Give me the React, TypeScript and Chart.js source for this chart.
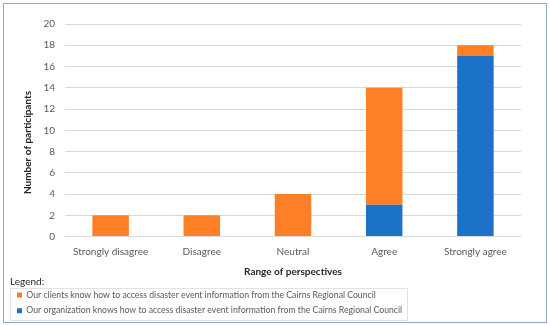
import React, { useEffect, useRef } from "react";
import { Chart, registerables } from "chart.js";

Chart.register(...registerables);

const categories = ["Strongly disagree", "Disagree", "Neutral", "Agree", "Strongly agree"];
const clientsLabel =
  "Our clients know how to access disaster event information from the Cairns Regional Council";
const orgLabel =
  "Our organization knows how to access disaster event information from the Cairns Regional Council";
const clientsValues = [2, 2, 4, 11, 1];
const orgValues = [0, 0, 0, 3, 17];
const yMin = 0;
const yMax = 20;
const yStep = 2;

const FONT = "Lato, 'Open Sans', sans-serif";

const legendFrame = {
  id: "legendFrame",
  afterDraw(chart: any) {
    const lg = chart.legend;
    if (!lg || !lg.legendHitBoxes || !lg.legendHitBoxes.length) return;
    let l = Infinity, t = Infinity, r = -Infinity, b = -Infinity;
    lg.legendHitBoxes.forEach((h: any) => {
      l = Math.min(l, h.left);
      t = Math.min(t, h.top);
      r = Math.max(r, h.left + h.width);
      b = Math.max(b, h.top + h.height);
    });
    const ctx = chart.ctx;
    ctx.save();
    ctx.strokeStyle = "#e2e2e2";
    ctx.lineWidth = 1;
    ctx.strokeRect(Math.round(l - 7) + 0.5, Math.round(t - 3) + 0.5, Math.round(r - l + 12), Math.round(b - t + 8));
    ctx.restore();
  },
};

export default function App() {
  const ref = useRef<HTMLCanvasElement | null>(null);
  useEffect(() => {
    if (!ref.current) return;
    const chart = new Chart(ref.current, {
      type: "bar",
      data: {
        labels: categories,
        datasets: [
          {
            label: orgLabel,
            data: orgValues,
            backgroundColor: "#1B72C6",
            borderWidth: 0,
            categoryPercentage: 0.8,
            barPercentage: 0.5,
          },
          {
            label: clientsLabel,
            data: clientsValues,
            backgroundColor: "#FF7F27",
            borderWidth: 0,
            categoryPercentage: 0.8,
            barPercentage: 0.5,
          },
        ],
      },
      options: {
        animation: false,
        responsive: false,
        maintainAspectRatio: false,
        layout: { padding: { left: 6, right: 25, top: 20, bottom: -3 } },
        font: { family: FONT },
        scales: {
          x: {
            stacked: true,
            grid: { display: false, drawTicks: false },
            border: { display: false },
            ticks: { color: "#595959", font: { family: FONT, size: 10 }, padding: 9 },
            title: {
              display: true,
              text: "Range of perspectives",
              color: "#262626",
              font: { family: FONT, size: 10, weight: "bold", lineHeight: 1 },
              padding: { top: 0, bottom: -2 },
            },
            afterFit(scale: any) {
              scale.height = 38;
            },
          },
          y: {
            stacked: true,
            min: yMin,
            max: yMax,
            ticks: { stepSize: yStep, color: "#595959", font: { family: FONT, size: 10 }, padding: 10 },
            grid: { color: "#d9d9d9", drawTicks: false },
            border: { display: false },
            title: {
              display: true,
              text: "Number of participants          ",
              color: "#262626",
              font: { family: FONT, size: 10, weight: "bold" },
              padding: { top: 12, bottom: 0 },
            },
            afterFit(scale: any) {
              scale.width = 55;
            },
          },
        },
        plugins: {
          tooltip: { enabled: false },
          legend: {
            position: "bottom",
            align: "start",
            reverse: true,
            title: {
              display: true,
              text: "Legend:",
              position: "start",
              color: "#1f1f1f",
              font: { family: FONT, size: 10, lineHeight: 1 },
              padding: { top: 2, bottom: -3 },
            },
            labels: {
              boxWidth: 5,
              boxHeight: 5,
              padding: 7,
              color: "#595959",
              font: { family: FONT, size: 8.7 },
            },
          },
        },
      },
      plugins: [legendFrame],
    } as any);
    return () => chart.destroy();
  }, []);

  return (
    <div style={{ position: "fixed", left: 0, top: 0, width: 550, height: 325, background: "#fff" }}>
      <div
        style={{
          position: "absolute",
          left: 3,
          top: 3,
          width: 544,
          height: 320,
          boxSizing: "border-box",
          border: "1px solid #8FA9D2",
        }}
      />
      <canvas
        ref={ref}
        width={542}
        height={318}
        style={{ position: "absolute", left: 4, top: 4, width: 542, height: 318 }}
      />
    </div>
  );
}
